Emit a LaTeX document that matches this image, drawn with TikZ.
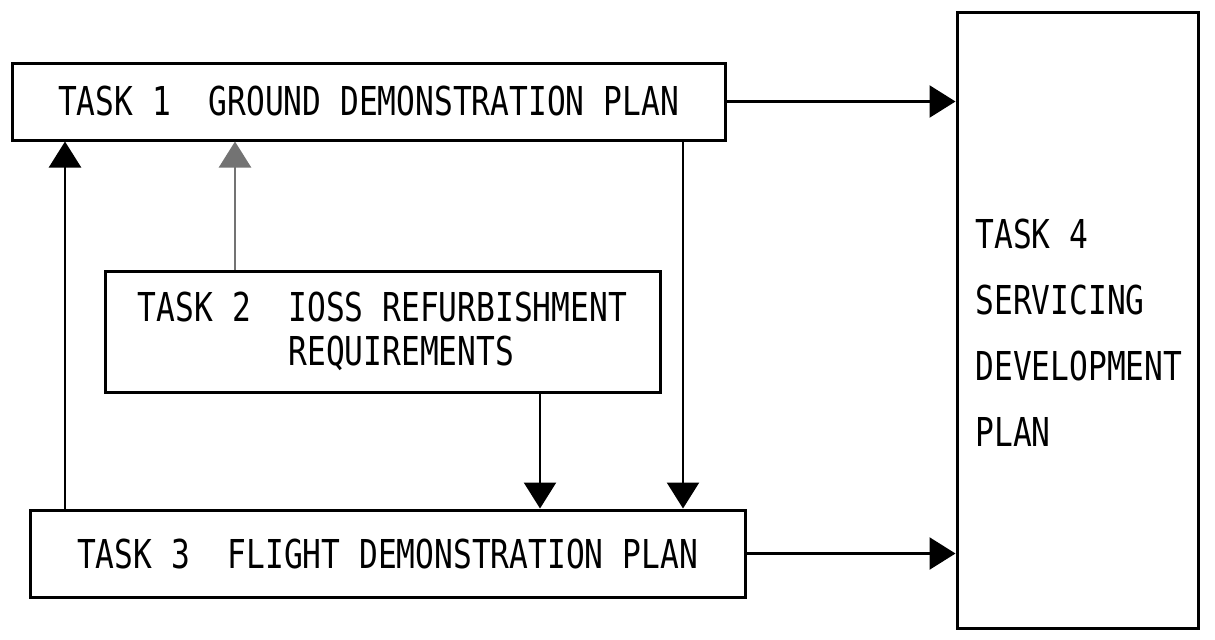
\documentclass[tikz,border=0pt]{standalone}
\usepackage{fontspec}
\usepackage{tikz}
\usetikzlibrary{arrows.meta}
\newfontfamily\taskfont[FakeStretch=0.785]{DejaVu Sans Mono}

\begin{document}
\begin{tikzpicture}[x=0.5pt, y=-0.5pt,
    taskbox/.style={draw, line width=1.5pt, rectangle, inner sep=0pt,
      font=\taskfont\fontsize{19.9}{22}\selectfont},
    flow/.style={line width=1.2pt, -{Triangle[length=13pt, width=16pt]}},
    faintflow/.style={flow, draw=black!55}]
        \useasboundingbox (0,0) rectangle (1215,639);

        % Task boxes
        \node[taskbox, minimum width=356.5pt, minimum height=38.5pt] (t1) at (368.5,101.5)
          {TASK 1\ \ GROUND DEMONSTRATION PLAN};
        \node[taskbox, minimum width=277.5pt, minimum height=60.5pt, align=left] (t2) at (382.5,331.5)
          {TASK 2\ \ IOSS REFURBISHMENT\\\hphantom{TASK 2\ \ }REQUIREMENTS};
        \node[taskbox, minimum width=357.5pt, minimum height=43.5pt] (t3) at (387.5,553.5)
          {TASK 3\ \ FLIGHT DEMONSTRATION PLAN};
        \node[taskbox, minimum width=120.5pt, minimum height=308pt] (t4) at (1077.5,320) {};
        \node[anchor=west, align=left, inner sep=0pt,
          font=\taskfont\fontsize{19.9}{33}\selectfont] (t4txt) at (975,333)
          {TASK 4\\SERVICING\\DEVELOPMENT\\PLAN};

        % columns of the vertical links
        \coordinate (xa) at (65,0);
        \coordinate (xb) at (235,0);
        \coordinate (xc) at (540,0);
        \coordinate (xd) at (683,0);

        % Links between the tasks
        \draw[flow] (xa |- t3.north) -- (xa |- t1.south);
        \draw[faintflow] (xb |- t2.north) -- (xb |- t1.south);
        \draw[flow] (xc |- t2.south) -- (xc |- t3.north);
        \draw[flow] (xd |- t1.south) -- (xd |- t3.north);
        \draw[flow] (t1.east) -- (t1.east -| t4.west);
        \draw[flow] (t3.east) -- (t3.east -| t4.west);
      \end{tikzpicture}
\end{document}
